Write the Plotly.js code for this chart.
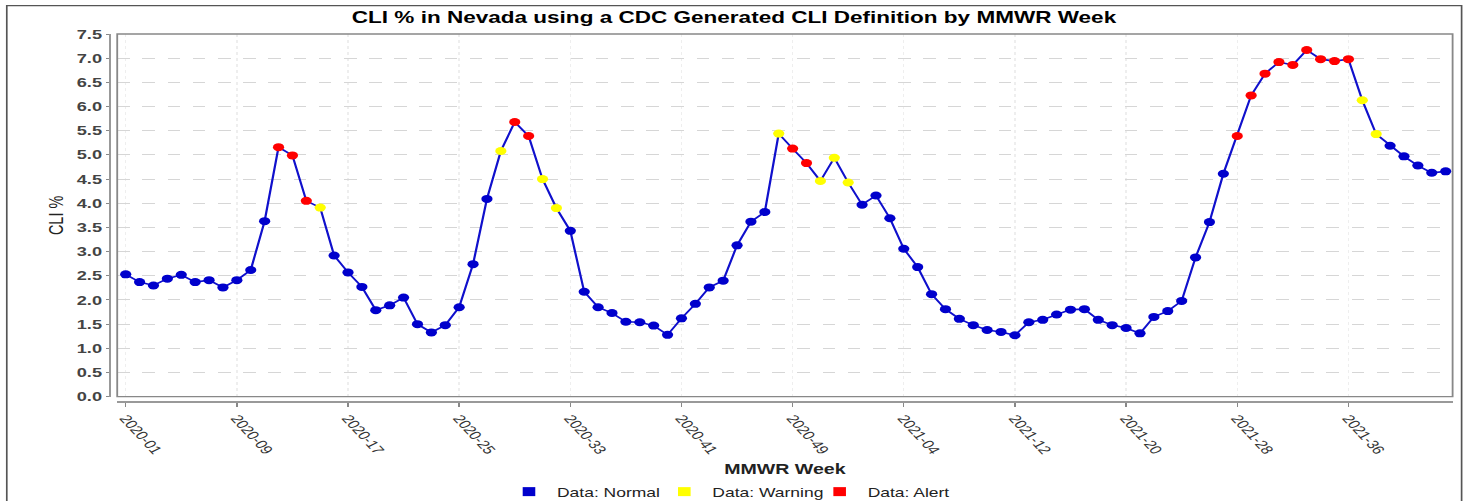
<!DOCTYPE html>
<html>
<head>
<meta charset="utf-8">
<script src="https://cdn.plot.ly/plotly-3.0.1.min.js"></script>
<style>
  html, body { margin: 0; padding: 0; background: #ffffff; overflow: hidden; }
  #chart { width: 1049px; height: 501px; transform: scaleX(1.39943); transform-origin: 0 0; }
</style>
</head>
<body>
<div id="chart"></div>
<script>
// MMWR weeks (categories)
const weeks = [
  "2020-01","2020-02","2020-03","2020-04","2020-05","2020-06","2020-07","2020-08","2020-09","2020-10",
  "2020-11","2020-12","2020-13","2020-14","2020-15","2020-16","2020-17","2020-18","2020-19","2020-20",
  "2020-21","2020-22","2020-23","2020-24","2020-25","2020-26","2020-27","2020-28","2020-29","2020-30",
  "2020-31","2020-32","2020-33","2020-34","2020-35","2020-36","2020-37","2020-38","2020-39","2020-40",
  "2020-41","2020-42","2020-43","2020-44","2020-45","2020-46","2020-47","2020-48","2020-49","2020-50",
  "2020-51","2020-52","2020-53",
  "2021-01","2021-02","2021-03","2021-04","2021-05","2021-06","2021-07","2021-08","2021-09","2021-10",
  "2021-11","2021-12","2021-13","2021-14","2021-15","2021-16","2021-17","2021-18","2021-19","2021-20",
  "2021-21","2021-22","2021-23","2021-24","2021-25","2021-26","2021-27","2021-28","2021-29","2021-30",
  "2021-31","2021-32","2021-33","2021-34","2021-35","2021-36","2021-37","2021-38","2021-39","2021-40",
  "2021-41","2021-42","2021-43"
];

// CLI % values
const cliPct = [
  2.53, 2.37, 2.30, 2.44, 2.52, 2.37, 2.41, 2.26, 2.41, 2.62,
  3.63, 5.16, 4.99, 4.05, 3.91, 2.92, 2.57, 2.27, 1.79, 1.89,
  2.05, 1.50, 1.33, 1.48, 1.85, 2.74, 4.09, 5.08, 5.68, 5.39,
  4.50, 3.90, 3.43, 2.17, 1.85, 1.73, 1.55, 1.54, 1.47, 1.28,
  1.62, 1.92, 2.26, 2.40, 3.13, 3.62, 3.82, 5.44, 5.13, 4.83,
  4.46, 4.94, 4.43,
  3.97, 4.16, 3.69, 3.06, 2.68, 2.12, 1.81, 1.61, 1.48, 1.38,
  1.34, 1.27, 1.54, 1.59, 1.70, 1.80, 1.81, 1.59, 1.48, 1.42,
  1.31, 1.65, 1.77, 1.98, 2.88, 3.61, 4.61, 5.39, 6.23, 6.68,
  6.92, 6.86, 7.17, 6.98, 6.94, 6.98, 6.13, 5.43, 5.19, 4.97,
  4.78, 4.63, 4.66
];

// Data status per week: N = Normal, W = Warning, A = Alert
const status = [
  "N","N","N","N","N","N","N","N","N","N",
  "N","A","A","A","W","N","N","N","N","N",
  "N","N","N","N","N","N","N","W","A","A",
  "W","W","N","N","N","N","N","N","N","N",
  "N","N","N","N","N","N","N","W","A","A",
  "W","W","W",
  "N","N","N","N","N","N","N","N","N","N",
  "N","N","N","N","N","N","N","N","N","N",
  "N","N","N","N","N","N","N","A","A","A",
  "A","A","A","A","A","A","W","W","N","N",
  "N","N","N"
];

const statusCodes = ["N", "W", "A"];
const statusNames = ["Data: Normal", "Data: Warning", "Data: Alert"];
const statusColors = ["#0000CC", "#FFFF00", "#FF0000"];

const xTickVals = ["2020-01","2020-09","2020-17","2020-25","2020-33","2020-41","2020-49",
                   "2021-04","2021-12","2021-20","2021-28","2021-36"];
const yTickVals = [0, 0.5, 1, 1.5, 2, 2.5, 3, 3.5, 4, 4.5, 5, 5.5, 6, 6.5, 7, 7.5];

const FONT = '"Liberation Sans", Arial, sans-serif';

const traces = [{
  x: weeks, y: cliPct, type: 'scatter', mode: 'lines',
  line: { color: '#1010CC', width: 1.6 },
  showlegend: false, hoverinfo: 'skip'
}];

statusCodes.forEach((code, i) => {
  traces.push({
    x: weeks,
    y: cliPct.map((v, k) => status[k] === code ? v : null),
    type: 'scatter', mode: 'markers',
    marker: { color: statusColors[i], size: 8, symbol: 'circle' },
    name: statusNames[i], showlegend: false
  });
});
statusCodes.forEach((code, i) => {
  traces.push({
    x: [null], y: [null], type: 'scatter', mode: 'markers',
    marker: { color: statusColors[i], size: 9, symbol: 'square' },
    name: statusNames[i], showlegend: true
  });
});

const layout = {
  width: 1049, height: 501,
  paper_bgcolor: '#ffffff', plot_bgcolor: '#ffffff',
  margin: { l: 77.5, r: 10.7, t: 33.5, b: 99 },
  font: { family: FONT, color: '#333333' },
  title: {
    text: 'CLI % in Nevada using a CDC Generated CLI Definition by MMWR Week',
    font: { family: FONT, size: 16.1, color: '#000000', weight: 'bold' },
    x: 0.5, xref: 'container', xanchor: 'center',
    y: 1 - 17 / 501, yref: 'container', yanchor: 'middle'
  },
  xaxis: {
    type: 'category',
    domain: [0.006, 1],
    range: [-0.61, 95.5],
    anchor: 'free', position: 0,
    tickmode: 'array', tickvals: xTickVals, ticktext: xTickVals,
    tickangle: 56,
    tickfont: { family: FONT, size: 12, color: '#333333' },
    ticks: 'outside', ticklen: 4, tickcolor: '#888888', tickwidth: 1,
    showline: true, linecolor: '#999999', linewidth: 1.5,
    showgrid: true, gridcolor: '#eeeeee', griddash: 'dot', gridwidth: 1,
    zeroline: false,
    title: { text: 'MMWR Week', font: { family: FONT, size: 14, color: '#222222', weight: 'bold' }, standoff: 16 }
  },
  yaxis: {
    domain: [0.0144, 1],
    range: [0, 7.5],
    anchor: 'free', position: 0,
    tickmode: 'array', tickvals: yTickVals, tickformat: '.1f',
    tickfont: { family: FONT, size: 13, color: '#444444', weight: 'bold' },
    ticks: 'outside', ticklen: 2.5, tickcolor: '#888888', tickwidth: 1,
    showline: true, linecolor: '#999999', linewidth: 1,
    showgrid: true, gridcolor: '#d6d6d6', griddash: 'dash', gridwidth: 1,
    zeroline: false,
    title: { text: 'CLI %', font: { family: FONT, size: 14.5, color: '#222222' }, standoff: 4 }
  },
  shapes: [
    { type: 'rect', xref: 'x domain', yref: 'y domain', x0: 0, x1: 1, y0: 0, y1: 1,
      line: { color: '#888888', width: 1.3 }, layer: 'above' },
    { type: 'rect', xref: 'paper', yref: 'paper', x0: -0.0762, x1: 1.0067, y0: -0.5, y1: 1.0773,
      line: { color: '#555555', width: 1.2 }, fillcolor: 'rgba(0,0,0,0)', layer: 'above' }
  ],
  showlegend: true,
  legend: {
    orientation: 'h', xref: 'container', yref: 'container',
    x: 0.5, xanchor: 'center', y: 1 - 492 / 501, yanchor: 'middle',
    font: { family: FONT, size: 12.5, color: '#222222' },
    bgcolor: 'rgba(0,0,0,0)', itemwidth: 30, tracegroupgap: 0,
    entrywidth: 66, entrywidthmode: 'pixels'
  }
};

Plotly.newPlot('chart', traces, layout, { displayModeBar: false, responsive: false });
</script>
</body>
</html>
